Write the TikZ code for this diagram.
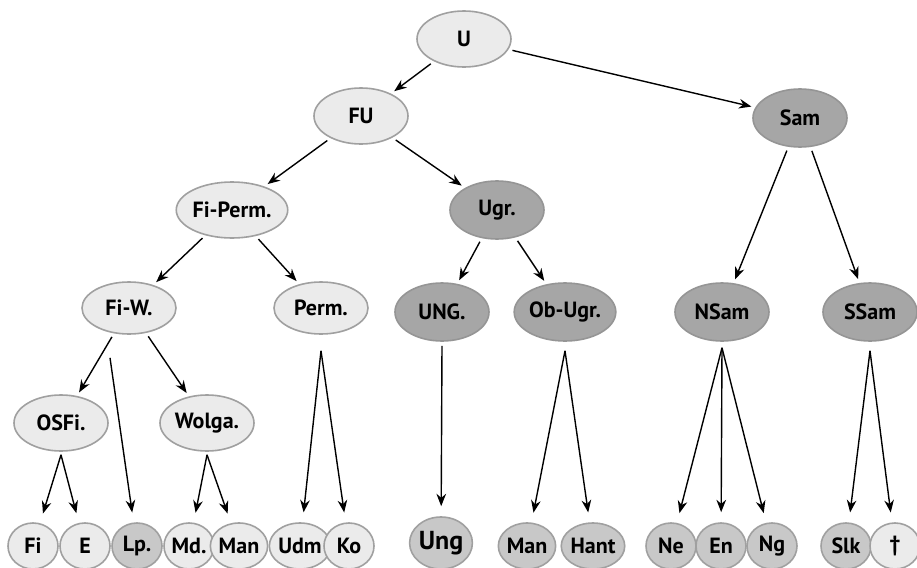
\documentclass[tikz,border=0pt]{standalone}
\usepackage{fontspec}
\setmainfont{PT Sans}
\usetikzlibrary{
    shapes.geometric,
    arrows.meta,
    positioning
}
\definecolor{nodeline}{HTML}{A0A0A0}
\definecolor{lightfill}{HTML}{EBEBEB}
\definecolor{darkfill}{HTML}{A6A6A6}
\definecolor{midfill}{HTML}{C8C8C8}
\tikzset{branch/.style={
    ellipse,
    draw=nodeline,
    line width=0.8pt,
    fill=lightfill,
    minimum width=47pt,
    minimum height=28pt,
    inner sep=0pt,
    font=\bfseries\fontsize{11}{13}\selectfont
}}
\tikzset{branchdark/.style={branch, fill=darkfill, draw=darkfill!90!black, minimum height=29pt}}
\tikzset{leaf/.style={branch, minimum width=25pt, minimum height=23pt}}
\tikzset{leafdark/.style={leaf, fill=midfill}}
\tikzset{arrow/.style={-{Stealth[length=6.2pt,width=4.8pt]}, line width=0.7pt,
    shorten <=2pt, shorten >=2pt}}
\tikzset{fan/.style={arrow, shorten <=0pt, shorten >=5pt}}

\begin{document}
\begin{tikzpicture}[x=0.5pt, y=-0.5pt]
        \useasboundingbox (0,0) rectangle (917,568);

        % top levels
        \node[branch] (u) at (464,39) {U};
        \node[branch] (fu) at (361,116) {FU};
        \node[branchdark] (sam) at (800,118) {Sam};

        \node[branch] (fiperm) at (232,210) {Fi-Perm.};
        \node[branchdark] (ugr) at (497,210) {Ugr.};

        \node[branch, minimum height=26pt] (fiw) at (129,308) {Fi-W.};
        \node[branch, minimum height=26pt] (perm) at (321,308) {Perm.};
        \node[branchdark] (ungr) at (442,312) {UNG.};
        \node[branchdark] (obugr) at (565,312) {Ob-Ugr.};
        \node[branchdark] (nsam) at (722,312) {NSam};
        \node[branchdark] (ssam) at (870,312) {SSam};

        \node[branch] (osfi) at (61,423) {OSFi.};
        \node[branch] (wolga) at (207,423) {Wolga.};

        % languages
        \node[leaf] (fi) at (33,546) {Fi};
        \node[leaf] (e) at (85,546) {E};
        \node[leafdark] (lp) at (137,546) {Lp.};
        \node[leaf] (md) at (189,546) {Md.};
        \node[leaf] (man) at (239,546) {Man};
        \node[leaf] (udm) at (300,546) {Udm};
        \node[leaf] (ko) at (349,546) {Ko};
        \node[leafdark, minimum width=27pt, minimum height=26pt,
            font=\bfseries\fontsize{13}{15}\selectfont] (ung) at (441,543) {Ung};
        \node[leafdark] (manugr) at (527,546) {Man};
        \node[leafdark] (hant) at (593,546) {Hant};
        \node[leafdark] (ne) at (671,546) {Ne};
        \node[leafdark] (en) at (721,546) {En};
        \node[leafdark] (ng) at (772,546) {Ng};
        \node[leafdark] (slk) at (846,546) {Slk};
        \node[leaf] (extinct) at (895,546) {†};

        % fan-out points below the parents
        \coordinate (osfi-fan) at ([yshift=-1.5pt]osfi.south);
        \coordinate (wolga-fan) at ([yshift=-1.5pt]wolga.south);
        \coordinate (fiw-fan) at ([xshift=-9.5pt,yshift=-11.5pt]fiw.south);
        \coordinate (perm-fan) at ([yshift=-8pt]perm.south);
        \coordinate (ungr-fan) at ([yshift=-2pt]ungr.south);
        \coordinate (obugr-fan) at ([yshift=-4.5pt]obugr.south);
        \coordinate (nsam-fan) at ([yshift=-3pt]nsam.south);
        \coordinate (ssam-fan) at ([yshift=-4.5pt]ssam.south);

        \draw[arrow] (u) -- (fu);
        \draw[arrow] (u) -- (sam);
        \draw[arrow] (fu) -- (fiperm);
        \draw[arrow] (fu) -- (ugr);
        \draw[arrow] (sam) -- (nsam);
        \draw[arrow] (sam) -- (ssam);
        \draw[arrow] (fiperm) -- (fiw);
        \draw[arrow] (fiperm) -- (perm);
        \draw[arrow] (ugr) -- (ungr);
        \draw[arrow] (ugr) -- (obugr);
        \draw[arrow] (fiw) -- (osfi);
        \draw[arrow] (fiw) -- (wolga);

        \draw[fan] (fiw-fan) -- (lp);
        \draw[fan] (osfi-fan) -- (fi);
        \draw[fan] (osfi-fan) -- (e);
        \draw[fan] (wolga-fan) -- (md);
        \draw[fan] (wolga-fan) -- (man);
        \draw[fan] (perm-fan) -- (udm);
        \draw[fan] (perm-fan) -- (ko);
        \draw[fan] (ungr-fan) -- (ung);
        \draw[fan] (obugr-fan) -- (manugr);
        \draw[fan] (obugr-fan) -- (hant);
        \draw[fan] (nsam-fan) -- (ne);
        \draw[fan] (nsam-fan) -- (en);
        \draw[fan] (nsam-fan) -- (ng);
        \draw[fan] (ssam-fan) -- (slk);
        \draw[fan] (ssam-fan) -- (extinct);

    \end{tikzpicture}
\end{document}
